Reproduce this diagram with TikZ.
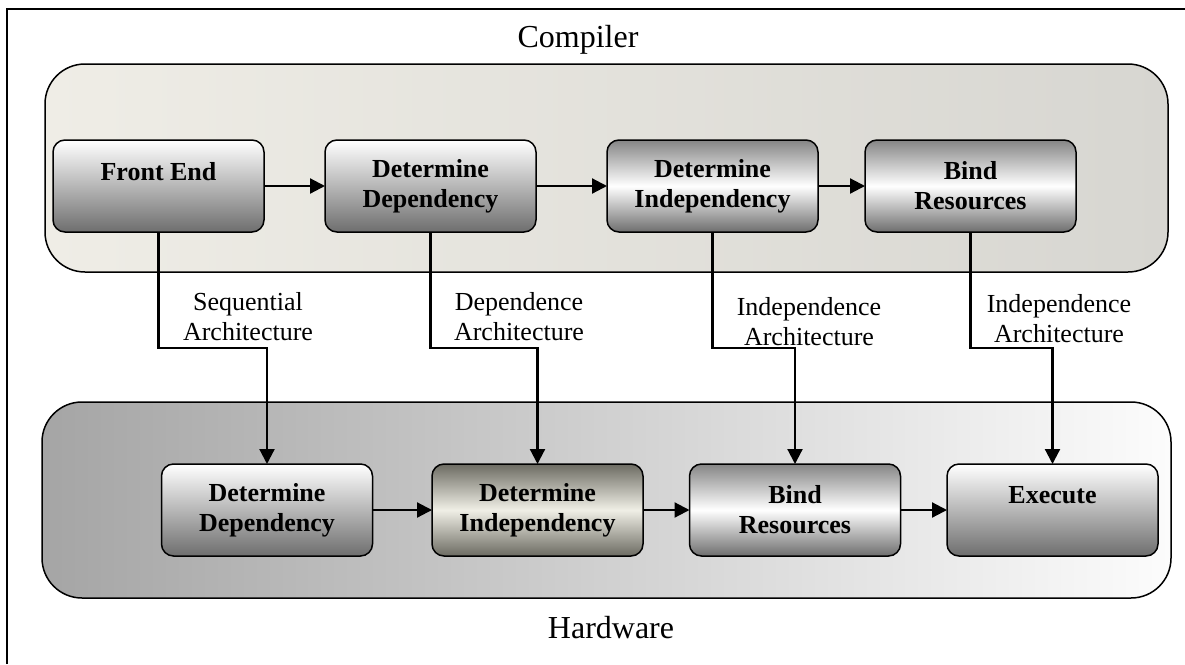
\documentclass[tikz,border=0pt]{standalone}
\usepackage{fontspec}
\setmainfont{Liberation Serif}
\usetikzlibrary{arrows.meta}

\definecolor{boxdark}{HTML}{6E6E6E}
\definecolor{boxmid}{HTML}{858585}
\definecolor{warmdark}{HTML}{6C6B62}
\definecolor{warmlight}{HTML}{F0EFE6}
\definecolor{compL}{HTML}{EFEDE6}
\definecolor{compR}{HTML}{D7D6D1}
\definecolor{hwL}{HTML}{A5A5A5}
\definecolor{hwR}{HTML}{FCFCFC}

\tikzset{
  container/.style={draw=black, line width=1.5pt, rounded corners=40pt,
    inner sep=0pt, outer sep=0pt},
  stage/.style={draw=black, line width=1.5pt, rounded corners=12pt,
    minimum width=211pt, minimum height=92pt, inner sep=0pt, outer sep=0pt,
    align=center, font=\bfseries\fontsize{26}{30}\selectfont},
  fadedown/.style={top color=white, bottom color=boxdark},
  glossy/.style={top color=boxmid, bottom color=boxdark, middle color=white},
  warmgloss/.style={top color=warmdark, bottom color=warmdark, middle color=warmlight},
  title/.style={font=\fontsize{32}{38}\selectfont},
  archlabel/.style={align=center, font=\fontsize{26}{30}\selectfont, inner sep=0pt},
  conn/.style={line width=2.2pt, -{Triangle[length=15pt,width=15pt]}},
}

\begin{document}
\begin{tikzpicture}[x=1pt, y=-1pt]
  \useasboundingbox (0,0) rectangle (1185,664);

  % frame
  \draw[line width=2pt] (7,664) -- (7,9) -- (1185,9);

  % compiler and hardware regions
  \node[container, left color=compL, right color=compR,
        minimum width=1123pt, minimum height=208pt] (compiler) at (606.5,168) {};
  \node[container, left color=hwL, right color=hwR,
        minimum width=1129pt, minimum height=196pt] (hardware) at (606.5,500) {};
  \node[title] (compilerlbl) at (578,40) {Compiler};
  \node[title] (hardwarelbl) at (611,628) {Hardware};

  % compiler stages
  \node[stage, fadedown] (fe)  at (158.5,186) {Front End\\\mbox{}};
  \node[stage, fadedown] (cdd) at (430.5,186) {Determine\\Dependency};
  \node[stage, glossy]   (cdi) at (712.5,186) {Determine\\Independency};
  \node[stage, glossy]   (cbr) at (970.5,186) {Bind\\Resources};

  % hardware stages
  \node[stage, fadedown]  (hdd) at (267,510)    {Determine\\Dependency};
  \node[stage, warmgloss] (hdi) at (537.5,510)  {Determine\\Independency};
  \node[stage, glossy]    (hbr) at (795,510)    {Bind\\Resources};
  \node[stage, fadedown]  (hex) at (1052.5,510) {Execute\\\mbox{}};

  % pipeline arrows
  \draw[conn] (fe)  -- (cdd);
  \draw[conn] (cdd) -- (cdi);
  \draw[conn] (cdi) -- (cbr);
  \draw[conn] (hdd) -- (hdi);
  \draw[conn] (hdi) -- (hbr);
  \draw[conn] (hbr) -- (hex);

  % hand-off from compiler to hardware
  \draw[conn] (fe)  -- (fe |- 0,348)  -| (hdd);
  \draw[conn] (cdd) -- (cdd |- 0,348) -| (hdi);
  \draw[conn] (cdi) -- (cdi |- 0,348) -| (hbr);
  \draw[conn] (cbr) -- (cbr |- 0,348) -| (hex);

  \node[archlabel] (seq)  at (248,317)  {Sequential\\Architecture};
  \node[archlabel] (dep)  at (519,317)  {Dependence\\Architecture};
  \node[archlabel] (ind1) at (809,322)  {Independence\\Architecture};
  \node[archlabel] (ind2) at (1059,319) {Independence\\Architecture};
\end{tikzpicture}
\end{document}
